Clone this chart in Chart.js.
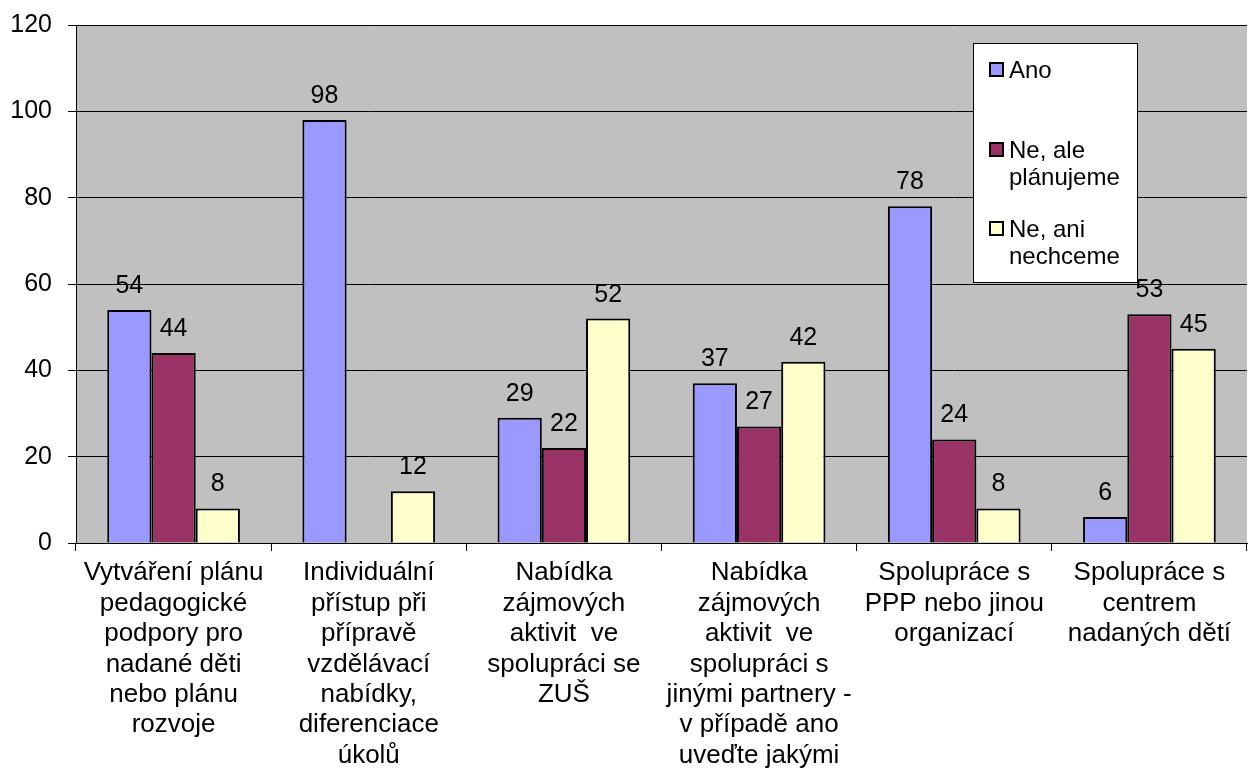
<!DOCTYPE html>
<html>
<head>
<meta charset="utf-8">
<script src="https://cdn.jsdelivr.net/npm/chart.js@4"></script>
<style>
  html, body { margin: 0; padding: 0; background: #fff; }
  #wrap { width: 1259px; height: 769px; }
</style>
</head>
<body>
<div id="wrap"><canvas id="chart" width="1259" height="769"></canvas></div>
<script>
'use strict';

const categories = [
  ['Vytváření plánu', 'pedagogické', 'podpory pro', 'nadané děti', 'nebo plánu', 'rozvoje'],
  ['Individuální', 'přístup při', 'přípravě', 'vzdělávací', 'nabídky,', 'diferenciace', 'úkolů'],
  ['Nabídka', 'zájmových', 'aktivit  ve', 'spolupráci se', 'ZUŠ'],
  ['Nabídka', 'zájmových', 'aktivit  ve', 'spolupráci s', 'jinými partnery -', 'v případě ano', 'uveďte jakými'],
  ['Spolupráce s', 'PPP nebo jinou', 'organizací'],
  ['Spolupráce s', 'centrem', 'nadaných dětí']
]
const ano = [54, 98, 29, 37, 78, 6]
const neAle = [44, null, 22, 27, 24, 53]
const neAni = [8, 12, 52, 42, 8, 45]
const seriesNames = [['Ano'], ['Ne, ale', 'plánujeme'], ['Ne, ani', 'nechceme']]
const yTicks = [0, 20, 40, 60, 80, 100, 120]

const font = 'Arial, "Liberation Sans", sans-serif'

const plotBg = {
  id: 'plotBg',
  beforeDraw(chart) {
    const a = chart.chartArea
    const c = chart.ctx
    c.save()
    c.fillStyle = '#c0c0c0'
    c.fillRect(a.left, a.top, a.right - a.left, a.bottom - a.top)
    c.restore()
  }
}

const valueLabels = {
  id: 'valueLabels',
  afterDatasetsDraw(chart) {
    const c = chart.ctx
    c.save()
    c.font = '25px ' + font
    c.fillStyle = '#000'
    c.textAlign = 'center'
    c.textBaseline = 'alphabetic'
    chart.data.datasets.forEach((ds, i) => {
      chart.getDatasetMeta(i).data.forEach((bar, j) => {
        if (ds.data[j] === null) return
        c.fillText(ds.data[j], bar.x, bar.y - 17)
      })
    })
    c.restore()
  }
}

const boxLegend = {
  id: 'boxLegend',
  afterDraw(chart) {
    const c = chart.ctx
    c.save()
    c.fillStyle = '#fff'
    c.strokeStyle = '#000'
    c.lineWidth = 1
    c.fillRect(973.5, 43.5, 164, 239)
    c.strokeRect(973.5, 43.5, 164, 239)
    const rows = [78, 158, 237]
    c.font = '24px ' + font
    c.textBaseline = 'alphabetic'
    c.textAlign = 'left'
    chart.data.datasets.forEach((ds, i) => {
      const y = rows[i]
      c.fillStyle = ds.backgroundColor
      c.fillRect(990, y - 15, 13, 13)
      c.lineWidth = 2
      c.strokeStyle = '#000'
      c.strokeRect(990, y - 15, 13, 13)
      c.fillStyle = '#000'
      seriesNames[i].forEach((t, k) => c.fillText(t, 1009, y + k * 27))
    })
    c.restore()
  }
}

new Chart(document.getElementById('chart'), {
  type: 'bar',
  data: {
    labels: categories,
    datasets: [
      { label: 'Ano', data: ano, backgroundColor: '#9999ff' },
      { label: 'Ne, ale plánujeme', data: neAle, backgroundColor: '#993366' },
      { label: 'Ne, ani nechceme', data: neAni, backgroundColor: '#ffffcc' }
    ].map(d => Object.assign(d, { borderColor: '#000', borderWidth: 2, categoryPercentage: 0.68, barPercentage: 1 }))
  },
  options: {
    responsive: false,
    animation: false,
    layout: { padding: { top: 25, right: 12, left: 0, bottom: 0 } },
    plugins: { legend: { display: false }, tooltip: { enabled: false } },
    scales: {
      x: {
        grid: { offset: true, drawOnChartArea: false, tickLength: 8, color: '#000' },
        border: { color: '#000', width: 1 },
        ticks: { color: '#000', font: { family: font, size: 26, lineHeight: 1.17 }, maxRotation: 0, autoSkip: false, padding: 7 },
        afterFit(s) { s.height = 226 }
      },
      y: {
        min: 0, max: 120,
        afterBuildTicks(s) { s.ticks = yTicks.map(v => ({ value: v })) },
        grid: { color: '#000', tickLength: 8 },
        border: { color: '#000', width: 1 },
        // small lineHeight keeps the top label from pushing the plot down
        ticks: { color: '#000', font: { family: font, size: 25, lineHeight: 0.7 }, padding: 16 },
        afterFit(s) { s.width = 76 }
      }
    }
  },
  plugins: [plotBg, valueLabels, boxLegend]
})
</script>
</body>
</html>
